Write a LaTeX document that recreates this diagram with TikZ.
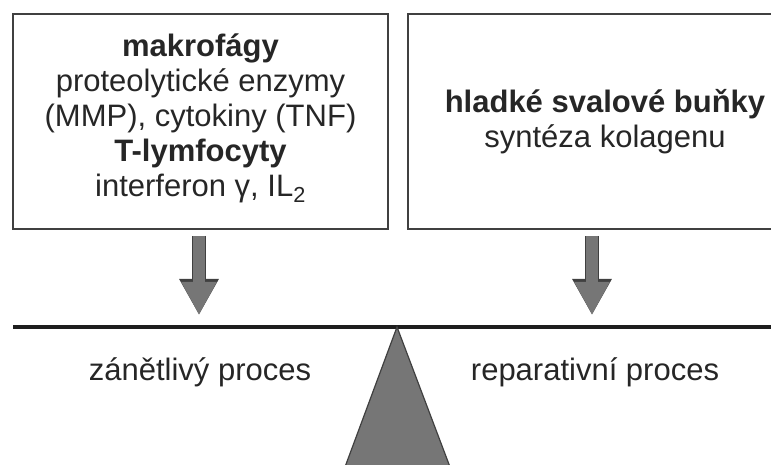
\documentclass[tikz,border=0pt]{standalone}
\usepackage{fontspec}
\setmainfont{Liberation Sans}
\usetikzlibrary{arrows.meta, positioning}
\definecolor{BoxLine}{RGB}{64, 64, 64}
\definecolor{ArrowGray}{RGB}{118, 118, 118}
\definecolor{BeamBlack}{RGB}{30, 30, 30}

\begin{document}
\begin{tikzpicture}[x=1pt, y=1pt, every node/.style={font=\fontsize{31}{35}\selectfont, text=black!85},
    box/.style={draw=BoxLine, line width=2pt, minimum height=215pt, align=center, inner sep=0pt},
    downarrow/.style={ArrowGray, line width=12pt, -{Triangle[width=33pt, length=33pt]}, shorten <=6pt, shorten >=12pt,
        preaction={draw=BoxLine, line width=14pt, -{Triangle[width=37pt, length=36pt]}}},
    beam/.style={BeamBlack, line width=4pt}]
    \useasboundingbox (0,0) rectangle (771,465);
    % Boxes
    \node[box, minimum width=375pt] (macro) at (200.5,343.5) {\textbf{makrofágy}\\ proteolytické enzymy\\ (MMP), cytokiny (TNF)\\ \textbf{T-lymfocyty}\\ interferon γ, IL\textsubscript{2}\\[-22pt] \mbox{}};
    \node[box, minimum width=394pt, right=18pt of macro] (smooth) {\textbf{hladké svalové buňky}\\ syntéza kolagenu};
    % Balance
    \coordinate (beamL) at (13,138);
    \coordinate (beamR) at (800,138);
    \coordinate (pivot) at (397,138);
    \coordinate (inflam) at (199,138);
    \coordinate (repair) at (592,138);
    \draw[downarrow] (macro.south -| inflam) -- (inflam);
    \draw[downarrow] (smooth.south -| repair) -- (repair);
    \draw[beam] (beamL) -- (beamR);
    \filldraw[fill=ArrowGray, draw=BoxLine, line width=1.2pt] (pivot) -- (345,-2) -- (450,-2) -- cycle;
    \node (inflamtxt) at (200,93) {zánětlivý proces};
    \node (repairtxt) at (595,93) {reparativní proces};
\end{tikzpicture}
\end{document}
